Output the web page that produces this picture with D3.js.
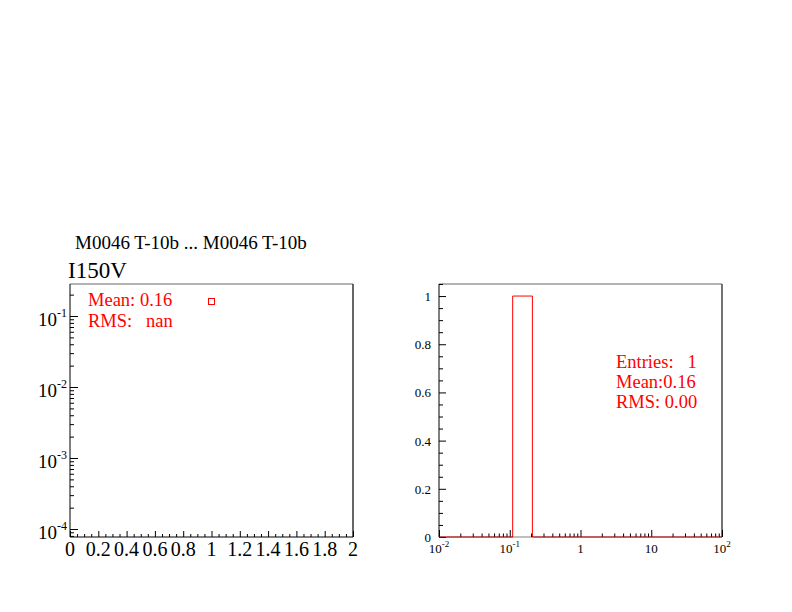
<!DOCTYPE html>
<html><head><meta charset="utf-8">
<script src="https://cdn.jsdelivr.net/npm/d3@7"></script>
<style>
html,body{margin:0;padding:0;background:#fff;}
svg text{font-family:"Liberation Serif","DejaVu Serif",serif;white-space:pre;}
</style></head>
<body>
<svg id="c" width="792" height="612"></svg>
<script>
// ---- data ----
const titleText = "M0046 T-10b ... M0046 T-10b";
const padTitle = "I150V";
const graphX = [1];
const graphY = [0.16];
const leftStats = ["Mean: 0.16", "RMS:   nan"];
const histEdges = [0.11, 0.209];
const histCounts = [1];
const rightStats = ["Entries:   1", "Mean:0.16", "RMS: 0.00"];
const leftXTickLabels = ["0","0.2","0.4","0.6","0.8","1","1.2","1.4","1.6","1.8","2"];
const leftYDecades = [-4,-3,-2,-1];
const rightYTickLabels = ["0","0.2","0.4","0.6","0.8","1"];
const rightXDecades = [-2,-1,0,1,2];
const rightXTickLabels = ["10^-2","10^-1","1","10","10^2"];

const svg = d3.select("#c");
const red = "#ff0000";

// ---- left pad ----
const xL = d3.scaleLinear().domain([0, 2]).range([70, 353]);
const yL = d3.scaleLog().domain([7.72e-5, 0.2823]).range([537, 284]);

const lxMajor = leftXTickLabels.map(Number);
const lxMinor = d3.range(0, 41).map(i => i * 0.05).filter(v => Math.abs(v / 0.2 - Math.round(v / 0.2)) > 1e-6);
const lyMajor = leftYDecades.map(d => Math.pow(10, d));
const lyMinor = [];
[-5,-4,-3,-2,-1].forEach(d => { for (let k = 2; k <= 9; k++) { const v = k * Math.pow(10, d); if (v >= yL.domain()[0] && v <= yL.domain()[1]) lyMinor.push(v); } });

function tickAxis(g, axis) {
  g.call(axis);
  g.selectAll(".domain").remove();
  g.selectAll("text").remove();
  g.selectAll("line").attr("stroke", "#000");
}
const left = svg.append("g");
left.append("line").attr("x1", 70).attr("x2", 353).attr("y1", 284).attr("y2", 284).attr("stroke", "#666");
left.append("line").attr("x1", 353).attr("x2", 353).attr("y1", 284).attr("y2", 537).attr("stroke", "#333").attr("stroke-width", 1.5);
left.append("g").attr("transform", "translate(0,537)").call(g => tickAxis(g, d3.axisBottom(xL).tickValues(lxMajor).tickSize(-6)));
left.append("g").attr("transform", "translate(0,537)").call(g => tickAxis(g, d3.axisBottom(xL).tickValues(lxMinor).tickSize(-3)));
left.append("g").attr("transform", "translate(70,0)").call(g => tickAxis(g, d3.axisLeft(yL).tickValues(lyMajor).tickSize(-8)));
left.append("g").attr("transform", "translate(70,0)").call(g => tickAxis(g, d3.axisLeft(yL).tickValues(lyMinor).tickSize(-4)));
left.append("line").attr("x1", 70).attr("x2", 353).attr("y1", 537).attr("y2", 537).attr("stroke", "#000");
left.append("line").attr("x1", 70).attr("x2", 70).attr("y1", 284).attr("y2", 537).attr("stroke", "#000");

left.selectAll("text.xl").data(leftXTickLabels).enter().append("text")
  .attr("x", d => xL(+d)).attr("y", 556).attr("text-anchor", "middle")
  .attr("font-size", 20).text(d => d);
leftYDecades.forEach(d => {
  const t = left.append("text").attr("x", 67).attr("y", yL(Math.pow(10, d)) + 10).attr("text-anchor", "end").attr("font-size", 19);
  t.append("tspan").text("10");
  t.append("tspan").attr("font-size", 12).attr("dy", -9).text(String(d));
});
left.selectAll("rect.pt").data(graphX.map((x, i) => [x, graphY[i]])).enter().append("rect")
  .attr("x", d => xL(d[0]) - 3).attr("y", d => yL(d[1]) - 3).attr("width", 6).attr("height", 6)
  .attr("fill", "none").attr("stroke", red).attr("stroke-width", 1);
left.selectAll("text.st").data(leftStats).enter().append("text")
  .attr("x", 88).attr("y", (d, i) => 306 + i * 21).attr("font-size", 18.5).attr("fill", red).text(d => d);
svg.append("text").attr("x", 75).attr("y", 249).attr("font-size", 19).text(titleText);
svg.append("text").attr("x", 68).attr("y", 278).attr("font-size", 23).text(padTitle);

// ---- right pad ----
const xR = d3.scaleLog().domain([0.01, 100]).range([439, 722]);
const yR = d3.scaleLinear().domain([0, 1.05]).range([537, 284]);
const right = svg.append("g");
const ryMajor = rightYTickLabels.map(Number);
const ryMinor = d3.range(0, 22).map(i => i * 0.05).filter(v => Math.abs(v / 0.2 - Math.round(v / 0.2)) > 1e-6 && v <= 1.05 + 1e-9);
const rxMajor = rightXDecades.map(d => Math.pow(10, d));
const rxMinor = [];
[-2,-1,0,1].forEach(d => { for (let k = 2; k <= 9; k++) rxMinor.push(k * Math.pow(10, d)); });

right.append("line").attr("x1", 439).attr("x2", 722).attr("y1", 284).attr("y2", 284).attr("stroke", "#666");
right.append("line").attr("x1", 722).attr("x2", 722).attr("y1", 284).attr("y2", 537).attr("stroke", "#444").attr("stroke-width", 1.5);
right.append("g").attr("transform", "translate(0,537)").call(g => tickAxis(g, d3.axisBottom(xR).tickValues(rxMajor).tickSize(-7)));
right.append("g").attr("transform", "translate(0,537)").call(g => tickAxis(g, d3.axisBottom(xR).tickValues(rxMinor).tickSize(-3.5)));
right.append("g").attr("transform", "translate(439,0)").call(g => tickAxis(g, d3.axisLeft(yR).tickValues(ryMajor).tickSize(-7)));
right.append("g").attr("transform", "translate(439,0)").call(g => tickAxis(g, d3.axisLeft(yR).tickValues(ryMinor).tickSize(-4)));
right.append("line").attr("x1", 439).attr("x2", 439).attr("y1", 284).attr("y2", 537).attr("stroke", "#000");

const histPts = [[xR.domain()[0], 0]];
histCounts.forEach((c, i) => {
  histPts.push([histEdges[i], 0], [histEdges[i], c], [histEdges[i + 1], c], [histEdges[i + 1], 0]);
});
histPts.push([xR.domain()[1], 0]);
right.append("path").attr("d", d3.line().x(d => xR(d[0])).y(d => yR(d[1]))(histPts))
  .attr("fill", "none").attr("stroke", red).attr("stroke-width", 1);
right.append("line").attr("x1", 439).attr("x2", 722).attr("y1", 537).attr("y2", 537).attr("stroke", "#000").attr("stroke-opacity", 0.5);

right.selectAll("text.yl").data(rightYTickLabels).enter().append("text")
  .attr("x", 431).attr("y", d => yR(+d) + 5).attr("text-anchor", "end").attr("font-size", 13).text(d => d);
rightXTickLabels.forEach((lab, i) => {
  const t = right.append("text").attr("x", xR(rxMajor[i])).attr("y", 553).attr("text-anchor", "middle").attr("font-size", 13);
  const parts = lab.split("^");
  t.append("tspan").text(parts[0]);
  if (parts[1]) t.append("tspan").attr("font-size", 9).attr("dy", -6).text(parts[1]);
});
right.selectAll("text.st").data(rightStats).enter().append("text")
  .attr("x", 616).attr("y", (d, i) => 368 + i * 20).attr("font-size", 18.5).attr("fill", red).text(d => d);
</script>
</body></html>
